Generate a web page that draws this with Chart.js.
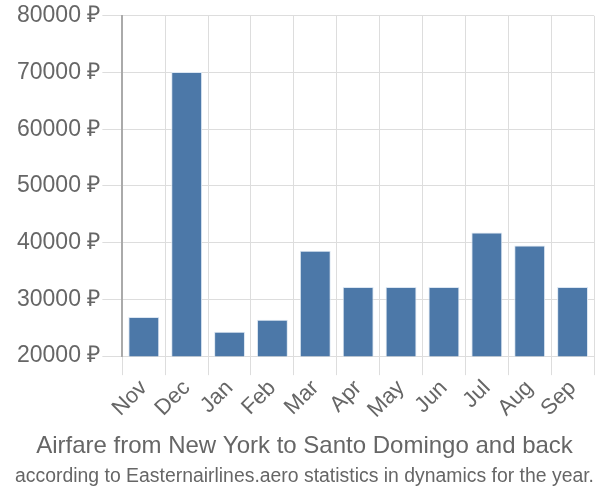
<!DOCTYPE html>
<html>
<head>
<meta charset="utf-8">
<script src="https://cdn.jsdelivr.net/npm/chart.js@4"></script>
<style>
    body { margin: 0; background: #fff; }
    #wrap { width: 600px; height: 500px; }
</style>
</head>
<body>
<div id="wrap"><canvas id="fareChart" width="600" height="500"></canvas></div>
<script>
// Chart data
const months = ['Nov', 'Dec', 'Jan', 'Feb', 'Mar', 'Apr', 'May', 'Jun', 'Jul', 'Aug', 'Sep'];
const prices = [26900, 70100, 24300, 26400, 38600, 32200, 32200, 32200, 41800, 39500, 32200];
const yTicks = [20000, 30000, 40000, 50000, 60000, 70000, 80000];

const titleText = 'Airfare from New York to Santo Domingo and back';
const subtitleText = 'according to Easternairlines.aero statistics in dynamics for the year.';

function initFareChart() {
    const ctx = document.getElementById('fareChart').getContext('2d');
    new Chart(ctx, {
        type: 'bar',
        data: {
            labels: months,
            datasets: [{
                data: prices,
                backgroundColor: '#4c78a8',
                borderColor: '#dbe6f2',
                borderWidth: 1,
                barPercentage: 0.72,
                categoryPercentage: 1
            }]
        },
        options: {
            responsive: false,
            animation: false,
            layout: { padding: { top: 8, right: 6, left: 15, bottom: 2 } },
            plugins: {
                legend: { display: false },
                tooltip: { enabled: false },
                title: {
                    display: true,
                    position: 'bottom',
                    weight: 2000,
                    text: titleText,
                    color: '#666',
                    font: { family: 'Liberation Sans', size: 24, weight: 'normal' },
                    padding: { top: 9, bottom: 3 }
                },
                subtitle: {
                    display: true,
                    position: 'bottom',
                    weight: 3000,
                    text: subtitleText,
                    color: '#666',
                    font: { family: "'Liberation Sans Narrow', 'Liberation Sans', sans-serif", size: 20 },
                    padding: { top: 0, bottom: 10 }
                }
            },
            scales: {
                x: {
                    grid: { color: '#ddd', tickLength: 19, offset: true },
                    border: { color: '#ddd' },
                    ticks: {
                        color: '#666',
                        font: { family: 'Liberation Sans', size: 22 },
                        maxRotation: 45,
                        minRotation: 45,
                        padding: 0
                    }
                },
                y: {
                    min: 20000,
                    max: 80000,
                    afterBuildTicks: axis => { axis.ticks = yTicks.map(v => ({ value: v })); },
                    grid: { color: '#ddd', tickLength: 20 },
                    border: { color: '#aaa', width: 2 },
                    ticks: {
                        color: '#666',
                        font: { family: 'Liberation Sans', size: 23 },
                        padding: 2,
                        callback: v => v + ' ₽'
                    }
                }
            }
        }
    });
}

document.addEventListener('DOMContentLoaded', initFareChart);
</script>
</body>
</html>
